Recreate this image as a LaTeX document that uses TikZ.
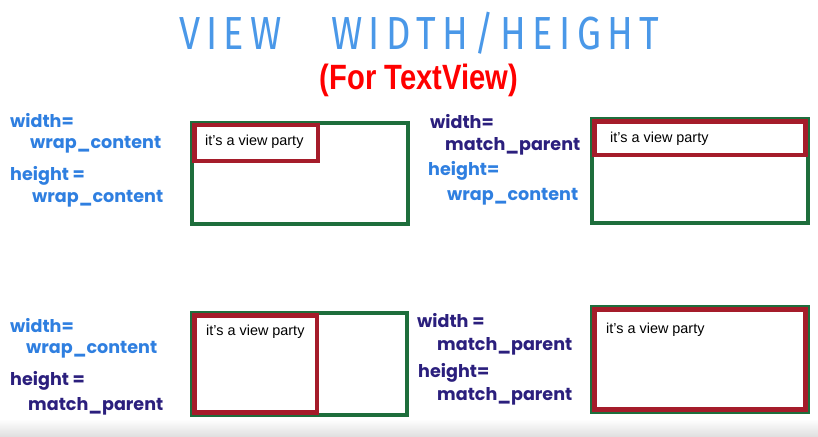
\documentclass[tikz,border=0pt]{standalone}
\usepackage{fontspec}
\setmainfont{Liberation Sans}
\newfontfamily\handfont{Poppins}
\newfontfamily\titlefont{Fira Sans}
\definecolor{penblue}{RGB}{47,127,224}
\definecolor{penpurple}{RGB}{43,31,125}
\definecolor{titleblue}{RGB}{74,152,232}
\definecolor{parentgreen}{RGB}{30,110,60}
\definecolor{viewred}{RGB}{165,28,42}
\tikzset{
  hand/.style={anchor=base west,inner sep=0pt,font=\handfont\bfseries\fontsize{15}{15}\selectfont},
  party/.style={anchor=base west,inner sep=0pt,font=\fontsize{12.3}{14}\selectfont},
  parentbox/.style={draw=parentgreen,line width=3pt},
  viewbox/.style={draw=viewred,line width=3.5pt}
}
\begin{document}
\begin{tikzpicture}[x=0.03cm,y=-0.03cm]
\useasboundingbox (0,0) rectangle (818,436);
\shade[top color=white,bottom color=black!12,draw=none] (0,419) rectangle (818,436);
\node[text=titleblue,font=\titlefont\fontsize{33}{33}\selectfont,xscale=0.98,yscale=1.2,inner sep=0pt] (title) at (419,33) {V\,I\,E\,W\hspace{1.3em}W\,I\,D\,T\,H\,/\,H\,E\,I\,G\,H\,T};
\node[text=red,font=\bfseries\fontsize{30}{30}\selectfont,xscale=0.83,inner sep=0pt] (subtitle) at (419,80) {(For TextView)};
\draw[parentbox] (192,123) rectangle (408,224);
\draw[viewbox] (194.5,125) rectangle (318,161);
\node[party] (partyA) at (205,145) {it's a view party};
\node[hand,text=penblue] (widthA) at (10,127) {width=};
\node[hand,text=penblue] (widthvalA) at (30,148) {wrap\_content};
\node[hand,text=penblue] (heightA) at (10,180) {height =};
\node[hand,text=penblue] (heightvalA) at (32,202) {wrap\_content};
\draw[parentbox] (592,119) rectangle (808,223);
\draw[viewbox] (594.5,121.5) rectangle (805.5,155);
\node[party] (partyB) at (610,142) {it's a view party};
\node[hand,text=penpurple] (widthB) at (430,128) {width=};
\node[hand,text=penpurple] (widthvalB) at (445,150) {match\_parent};
\node[hand,text=penblue] (heightB) at (428,175) {height=};
\node[hand,text=penblue] (heightvalB) at (447,200) {wrap\_content};
\draw[parentbox] (192,313) rectangle (407,415);
\draw[viewbox] (194.5,315.5) rectangle (317,412.5);
\node[party] (partyC) at (206,335) {it's a view party};
\node[hand,text=penblue] (widthC) at (10,332) {width=};
\node[hand,text=penblue] (widthvalC) at (26,353) {wrap\_content};
\node[hand,text=penpurple] (heightC) at (10,385) {height =};
\node[hand,text=penpurple] (heightvalC) at (28,410) {match\_parent};
\draw[parentbox] (592,307) rectangle (808,412);
\draw[viewbox] (594.5,309.5) rectangle (805.5,409.5);
\node[party] (partyD) at (606,333) {it's a view party};
\node[hand,text=penpurple] (widthD) at (417,327) {width =};
\node[hand,text=penpurple] (widthvalD) at (437,350) {match\_parent};
\node[hand,text=penpurple] (heightD) at (418,377) {height=};
\node[hand,text=penpurple] (heightvalD) at (437,400) {match\_parent};
\end{tikzpicture}
\end{document}
